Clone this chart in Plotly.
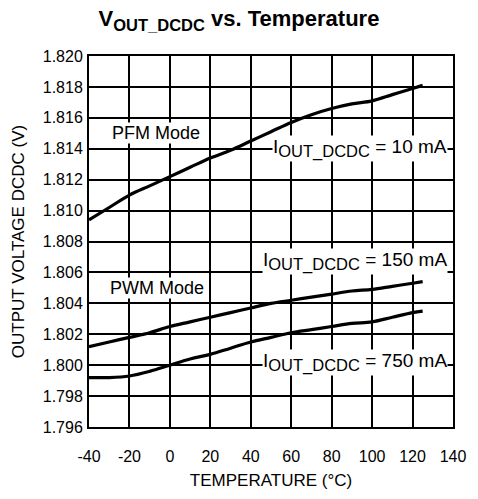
import plotly.graph_objects as go

temps = [-40, -30, -20, -10, 0, 10, 20, 30, 40, 50, 60, 70, 80, 90, 100, 110, 120, 125]
v_10mA = [1.8094, 1.8102, 1.8110, 1.8116, 1.8122, 1.8128, 1.8134, 1.8139, 1.8145, 1.8151, 1.8157, 1.8162, 1.8166, 1.8169, 1.8171, 1.8175, 1.8179, 1.8181]
v_150mA = [1.8012, 1.8015, 1.8018, 1.8021, 1.8025, 1.8028, 1.8031, 1.8034, 1.8037, 1.8040, 1.8042, 1.8044, 1.8046, 1.8048, 1.8049, 1.8051, 1.8053, 1.8054]
v_750mA = [1.7992, 1.7992, 1.7993, 1.7996, 1.8000, 1.8004, 1.8007, 1.8011, 1.8015, 1.8018, 1.8021, 1.8023, 1.8025, 1.8027, 1.8028, 1.8031, 1.8034, 1.8035]

x_ticks = [-40, -20, 0, 20, 40, 60, 80, 100, 120, 140]
y_ticks = [1.796, 1.798, 1.800, 1.802, 1.804, 1.806, 1.808, 1.810, 1.812, 1.814, 1.816, 1.818, 1.820]

FONT = "Liberation Sans, Arial, Helvetica, sans-serif"

fig = go.Figure()
for ys in (v_10mA, v_150mA, v_750mA):
    fig.add_trace(go.Scatter(x=temps, y=ys, mode="lines", line=dict(color="black", width=3.2, shape="spline"),
                             showlegend=False, hoverinfo="skip"))

SUB = "<sub><span style='font-size:16.5px'>OUT_DCDC</span></sub>"
ann = [
    dict(x=-7, y=1.8150, text="PFM Mode", xanchor="center"),
    dict(x=-6.5, y=1.80496, text="PWM Mode", xanchor="center"),
    dict(x=137.5, y=1.8140, text="I" + SUB + " = 10 mA", xanchor="right"),
    dict(x=137.5, y=1.80669, text="I" + SUB + " = 150 mA", xanchor="right"),
    dict(x=137.5, y=1.80016, text="I" + SUB + " = 750 mA", xanchor="right"),
]
for a in ann:
    fig.add_annotation(x=a["x"], y=a["y"], text=a["text"], xanchor=a["xanchor"], yanchor="middle",
                       showarrow=False, bgcolor="white", borderpad=0,
                       font=dict(family=FONT, size=19 if a["text"].startswith("I") else 18, color="black"))

fig.update_layout(
    width=478, height=499,
    margin=dict(l=89, r=13, t=56, b=64),
    paper_bgcolor="white", plot_bgcolor="white",
    font=dict(family=FONT, size=16, color="black"),
    title=dict(text="<b>V<sub><span style='font-size:16.5px'>OUT_DCDC</span></sub> vs. Temperature</b>",
               x=0.5, xref="container", xanchor="center",
               y=0.963, yref="container", yanchor="middle",
               font=dict(family=FONT, size=22, color="black")),
    xaxis=dict(range=[-40, 140], tickvals=x_ticks, ticktext=[str(t) for t in x_ticks],
               showgrid=True, gridcolor="black", gridwidth=1.5, zeroline=False,
               showline=True, linecolor="black", linewidth=2, mirror=True, ticks="",
               ticklabelstandoff=14, ticklabeloverflow="allow",
               title=dict(text="TEMPERATURE (°C)", standoff=10, font=dict(size=17))),
    yaxis=dict(range=[1.796, 1.820], tickvals=y_ticks, ticktext=[f"{t:.3f}" for t in y_ticks],
               showgrid=True, gridcolor="black", gridwidth=1.5, zeroline=False,
               showline=True, linecolor="black", linewidth=2, mirror=True, ticks="",
               ticklabelstandoff=1,
               title=dict(text="OUTPUT VOLTAGE DCDC (V)", standoff=14, font=dict(size=17))),
)
fig.write_html("out.html", config={"displayModeBar": False},
               post_script="document.body.style.margin='0';document.body.style.overflow='hidden';")
